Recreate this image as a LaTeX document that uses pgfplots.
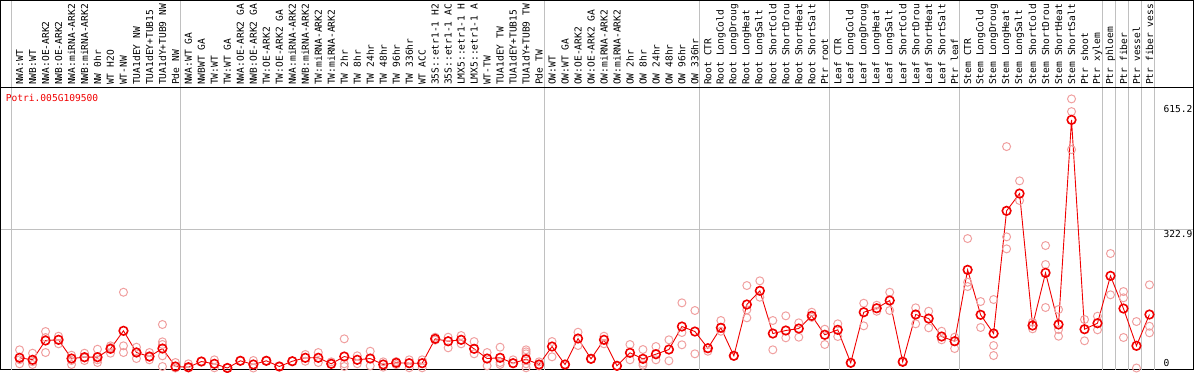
\documentclass[border=0pt]{standalone}
\usepackage{fontspec}
\setmainfont{DejaVu Sans Mono}
\usepackage{pgfplots}
\pgfplotsset{compat=1.18}
\usepackage{pgfplotstable}

\definecolor{meanred}{RGB}{240,0,0}
\definecolor{reppink}{RGB}{240,160,160}
\definecolor{sepgray}{RGB}{192,192,192}

\pgfplotstableread{
x y
1 23.8
2 19.1
3 64.1
4 65.7
5 22.1
6 25.2
7 25.2
8 44.7
9 86.7
10 36.1
11 26.8
12 45.4
13 3.5
14 1.9
15 15.1
16 9.8
17 0.0
18 16.8
19 8.2
20 16.8
21 3.5
22 15.8
23 23.8
24 23.8
25 9.8
26 26.8
27 19.1
28 22.1
29 8.2
30 12.1
31 11.2
32 11.2
33 68.0
34 62.4
35 65.7
36 44.7
37 22.1
38 23.8
39 11.2
40 20.5
41 8.2
42 50.1
43 8.2
44 68.7
45 21.4
46 65.7
47 5.1
48 35.4
49 21.4
50 32.2
51 43.1
52 96.7
53 85.0
54 46.1
55 93.7
56 28.4
57 148.0
58 179.9
59 80.4
60 87.4
61 92.0
62 121.6
63 77.4
64 89.0
65 12.1
66 130.0
67 139.3
68 157.3
69 14.4
70 124.7
71 115.3
72 73.4
73 62.4
74 228.8
75 124.0
76 80.4
77 366.3
78 406.6
79 99.0
80 221.8
81 101.4
82 578.3
83 90.4
84 104.4
85 214.8
86 138.6
87 51.7
88 124.7
}\means

\pgfplotstableread{
x y
1 42.4
1 9.8
1 19.2
2 34.5
2 8.2
2 14.6
3 85.0
3 36.1
3 71.0
4 74.1
4 56.4
4 66.6
5 29.8
5 17.5
5 8.2
6 34.5
6 17.5
6 23.6
7 43.8
7 19.1
7 12.8
8 51.7
8 34.5
8 48.0
9 176.6
9 51.7
9 36.1
10 48.5
10 22.1
10 37.7
11 36.1
11 19.1
11 25.2
12 101.4
12 61.0
12 54.8
12 28.4
12 3.5
13 12.8
13 0.0
14 9.8
14 0.0
15 15.1
15 16.0
16 19.1
16 0.5
17 0.0
17 1.0
18 16.8
18 17.0
19 17.5
19 0.0
20 16.8
20 17.0
21 3.5
21 3.0
22 15.8
22 16.0
23 31.5
23 15.8
24 36.1
24 12.8
25 14.4
25 9.0
26 68.0
26 9.8
26 3.5
27 28.4
27 10.0
28 39.1
28 5.1
29 14.4
29 2.0
30 15.0
30 8.0
31 19.1
31 0.5
32 19.1
32 0.5
33 71.8
33 65.0
34 71.8
34 47.1
35 75.7
35 56.4
36 61.7
36 33.1
37 36.1
37 5.1
38 48.5
38 12.8
38 8.2
39 19.1
39 11.0
40 42.4
40 37.7
40 33.1
40 9.8
40 0.5
41 14.4
41 5.0
42 61.7
42 26.1
43 8.2
43 8.0
44 83.4
44 52.4
45 21.4
45 21.0
46 74.1
46 56.4
47 5.1
47 5.0
48 54.8
48 19.1
49 43.1
49 11.2
49 6.5
50 50.1
50 19.1
51 65.7
51 16.8
52 151.9
52 82.7
52 54.1
53 134.0
53 33.1
54 39.1
54 46.0
55 110.7
55 85.7
56 28.4
56 28.0
57 192.2
57 135.6
57 117.0
58 203.2
58 165.0
59 110.7
59 42.4
60 121.6
60 70.4
61 105.3
61 71.8
62 130.0
62 118.0
63 90.4
63 54.8
64 103.0
64 73.4
65 12.1
65 12.0
66 151.0
66 98.3
67 146.3
67 132.3
68 176.6
68 134.0
69 14.4
69 16.0
70 140.3
70 103.0
71 132.3
71 93.7
72 85.7
72 65.7
73 71.8
73 45.4
74 301.7
74 199.9
74 189.9
75 154.9
75 94.4
76 159.6
76 52.4
76 29.1
77 516.1
77 305.7
77 277.7
78 436.2
78 390.3
79 106.7
79 91.3
80 285.4
80 241.2
80 141.0
81 136.3
81 89.7
81 74.1
82 627.2
82 597.6
82 509.1
83 113.0
83 63.4
84 120.7
84 89.0
85 266.8
85 170.6
86 178.2
86 163.6
86 71.1
87 108.3
87 0.0
88 193.9
88 97.4
88 82.0
}\reps

\begin{document}
\begin{tikzpicture}
\begin{axis}[
  scale only axis,
  width=1193pt, height=282pt,
  xmin=-0.4615, xmax=91.385,
  ymin=-3.5, ymax=653.6,
  clip=false,
  axis line style={black, line width=1.2pt},
  xtick={1,...,88},
  xticklabels={NWA:WT,NWB:WT,NWA:OE-ARK2,NWB:OE-ARK2,NWA:miRNA-ARK2,NWB:miRNA-ARK2,NW 0hr,WT H2O,WT-NW,TUA1dEY NW,TUA1dEY+TUB15,TUA1dY+TUB9 NW,Pde NW,NWA:WT GA,NWBWT GA,TW:WT,TW:WT GA,NWA:OE-ARK2 GA,NWB:OE-ARK2 GA,TW:OE-ARK2,TW:OE-ARK2 GA,NWA:miRNA-ARK2,NWB:miRNA-ARK2,TW:miRNA-ARK2,TW:miRNA-ARK2,TW 2hr,TW 8hr,TW 24hr,TW 48hr,TW 96hr,TW 336hr,WT ACC,35S::etr1-1 H2,35S::etr1-1 AC,LMX5::etr1-1 H,LMX5::etr1-1 A,WT-TW,TUA1dEY TW,TUA1dEY+TUB15,TUA1dY+TUB9 TW,Pde TW,OW:WT,OW:WT GA,OW:OE-ARK2,OW:OE-ARK2 GA,OW:miRNA-ARK2,OW:miRNA-ARK2,OW 2hr,OW 8hr,OW 24hr,OW 48hr,OW 96hr,OW 336hr,Root CTR,Root LongCold,Root LongDroug,Root LongHeat,Root LongSalt,Root ShortCold,Root ShortDrou,Root ShortHeat,Root ShortSalt,Ptr root,Leaf CTR,Leaf LongCold,Leaf LongDroug,Leaf LongHeat,Leaf LongSalt,Leaf ShortCold,Leaf ShortDrou,Leaf ShortHeat,Leaf ShortSalt,Ptr leaf,Stem CTR,Stem LongCold,Stem LongDroug,Stem LongHeat,Stem LongSalt,Stem ShortCold,Stem ShortDrou,Stem ShortHeat,Stem ShortSalt,Ptr shoot,Ptr xylem,Ptr phloem,Ptr fiber,Ptr vessel,Ptr fiber vess},
  xticklabel pos=upper,
  xticklabel style={rotate=90, anchor=west, inner sep=2.5pt, font=\fontsize{9.6}{10}\selectfont},
  major tick length=0pt,
  ytick=\empty,
]
% horizontal reference line at 322.9
\draw[sepgray, line width=1pt] (axis cs:-0.4615,322.9) -- (axis cs:91.385,322.9);
% vertical group separators (through header and plot)
\pgfplotsinvokeforeach{0.385,13.385,41.385,53.385,63.385,73.385,84.385,85.385,86.385,87.385,88.385}{
  \draw[sepgray, line width=1pt] (axis cs:#1,-3.5) -- ([yshift=87pt]axis cs:#1,653.6);
}
% header frame
\draw[black, line width=1.2pt] (rel axis cs:0,1) rectangle ([yshift=87pt]rel axis cs:1,1);

\addplot[only marks, mark=o, mark size=4pt, reppink, mark options={line width=1pt}]
  table[x=x, y=y] {\reps};
\addplot[meanred, line width=0.9pt, mark=o, mark size=4.3pt, mark options={line width=1.6pt, meanred}]
  table[x=x, y=y] {\means};

\node[anchor=west, text=meanred, inner sep=0pt, font=\fontsize{9.6}{10}\selectfont]
  at ([xshift=5pt, yshift=-10pt]rel axis cs:0,1) {Potri.005G109500};
\node[anchor=north west, inner sep=1pt, font=\fontsize{9.6}{10}\selectfont]
  at (axis cs:89.0,615.2) {615.2};
\node[anchor=north west, inner sep=1pt, font=\fontsize{9.6}{10}\selectfont]
  at (axis cs:89.0,322.9) {322.9};
\node[anchor=south west, inner sep=1pt, font=\fontsize{9.6}{10}\selectfont]
  at (axis cs:89.0,0) {0};
\end{axis}
\end{tikzpicture}
\end{document}
